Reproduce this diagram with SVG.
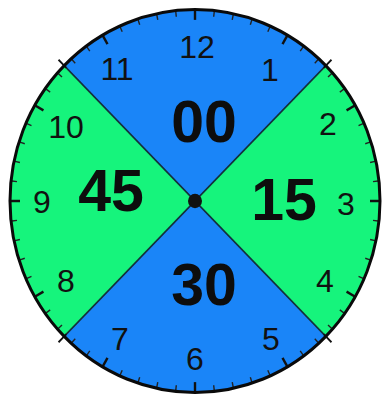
<svg xmlns="http://www.w3.org/2000/svg" xmlns:xlink="http://www.w3.org/1999/xlink" width="384" height="399" viewBox="0 0 384 399">
<style>
.hr{font-family:"Liberation Sans",Arial,sans-serif;font-size:32px;fill:#111;text-anchor:middle}
.big{font-family:"Liberation Sans",Arial,sans-serif;font-size:59px;font-weight:bold;fill:#0d0d0d;text-anchor:middle}
.mn{stroke:#222;stroke-width:1.4}
.mj{stroke:#111;stroke-width:2.4}
.dg{stroke:#111;stroke-width:1.8}
</style>
<defs>
<line id="m" class="mn" x1="0" y1="-184" x2="0" y2="-179"/>
<line id="M" class="mj" x1="0" y1="-185" x2="0" y2="-175"/>
<line id="D" class="dg" x1="0" y1="-193" x2="0" y2="-182"/>
</defs>
<rect width="384" height="399" fill="#ffffff"/>
<g id="clock" transform="translate(195,201) scale(1,1.035)">
<circle r="185" fill="#16f47c"/>
<path d="M0,0 L-130.8,-130.8 A185,185 0 0 1 130.8,-130.8 Z" fill="#1a85f8"/>
<path d="M0,0 L130.8,130.8 A185,185 0 0 1 -130.8,130.8 Z" fill="#1a85f8"/>
<line x1="-130.8" y1="-130.8" x2="130.8" y2="130.8" stroke="#13303a" stroke-width="1.6"/>
<line x1="130.8" y1="-130.8" x2="-130.8" y2="130.8" stroke="#13303a" stroke-width="1.6"/>
<g id="ticks">
<use xlink:href="#m" transform="rotate(6)"/><use xlink:href="#m" transform="rotate(12)"/><use xlink:href="#m" transform="rotate(18)"/><use xlink:href="#m" transform="rotate(24)"/>
<use xlink:href="#m" transform="rotate(36)"/><use xlink:href="#m" transform="rotate(42)"/><use xlink:href="#m" transform="rotate(48)"/><use xlink:href="#m" transform="rotate(54)"/>
<use xlink:href="#m" transform="rotate(66)"/><use xlink:href="#m" transform="rotate(72)"/><use xlink:href="#m" transform="rotate(78)"/><use xlink:href="#m" transform="rotate(84)"/>
<use xlink:href="#m" transform="rotate(96)"/><use xlink:href="#m" transform="rotate(102)"/><use xlink:href="#m" transform="rotate(108)"/><use xlink:href="#m" transform="rotate(114)"/>
<use xlink:href="#m" transform="rotate(126)"/><use xlink:href="#m" transform="rotate(132)"/><use xlink:href="#m" transform="rotate(138)"/><use xlink:href="#m" transform="rotate(144)"/>
<use xlink:href="#m" transform="rotate(156)"/><use xlink:href="#m" transform="rotate(162)"/><use xlink:href="#m" transform="rotate(168)"/><use xlink:href="#m" transform="rotate(174)"/>
<use xlink:href="#m" transform="rotate(186)"/><use xlink:href="#m" transform="rotate(192)"/><use xlink:href="#m" transform="rotate(198)"/><use xlink:href="#m" transform="rotate(204)"/>
<use xlink:href="#m" transform="rotate(216)"/><use xlink:href="#m" transform="rotate(222)"/><use xlink:href="#m" transform="rotate(228)"/><use xlink:href="#m" transform="rotate(234)"/>
<use xlink:href="#m" transform="rotate(246)"/><use xlink:href="#m" transform="rotate(252)"/><use xlink:href="#m" transform="rotate(258)"/><use xlink:href="#m" transform="rotate(264)"/>
<use xlink:href="#m" transform="rotate(276)"/><use xlink:href="#m" transform="rotate(282)"/><use xlink:href="#m" transform="rotate(288)"/><use xlink:href="#m" transform="rotate(294)"/>
<use xlink:href="#m" transform="rotate(306)"/><use xlink:href="#m" transform="rotate(312)"/><use xlink:href="#m" transform="rotate(318)"/><use xlink:href="#m" transform="rotate(324)"/>
<use xlink:href="#m" transform="rotate(336)"/><use xlink:href="#m" transform="rotate(342)"/><use xlink:href="#m" transform="rotate(348)"/><use xlink:href="#m" transform="rotate(354)"/>
<use xlink:href="#M"/><use xlink:href="#M" transform="rotate(30)"/><use xlink:href="#M" transform="rotate(60)"/><use xlink:href="#M" transform="rotate(90)"/>
<use xlink:href="#M" transform="rotate(120)"/><use xlink:href="#M" transform="rotate(150)"/><use xlink:href="#M" transform="rotate(180)"/><use xlink:href="#M" transform="rotate(210)"/>
<use xlink:href="#M" transform="rotate(240)"/><use xlink:href="#M" transform="rotate(270)"/><use xlink:href="#M" transform="rotate(300)"/><use xlink:href="#M" transform="rotate(330)"/>
<use xlink:href="#D" transform="rotate(45)"/><use xlink:href="#D" transform="rotate(135)"/><use xlink:href="#D" transform="rotate(225)"/><use xlink:href="#D" transform="rotate(315)"/>
</g>
<circle r="185" fill="none" stroke="#0a0a0a" stroke-width="3"/>
<circle r="7" fill="#111"/>
</g>
<g id="hours">
<text class="hr" x="197" y="58">12</text>
<text class="hr" x="270" y="81">1</text>
<text class="hr" x="328" y="135">2</text>
<text class="hr" x="346" y="215">3</text>
<text class="hr" x="325" y="292">4</text>
<text class="hr" x="271" y="350">5</text>
<text class="hr" x="195" y="370">6</text>
<text class="hr" x="120" y="350">7</text>
<text class="hr" x="66" y="292">8</text>
<text class="hr" x="42" y="213">9</text>
<text class="hr" x="66" y="138">10</text>
<text class="hr" x="117" y="80">11</text>
</g>
<g id="minutes">
<text class="big" x="204" y="142">00</text>
<text class="big" x="284" y="220">15</text>
<text class="big" x="204" y="305">30</text>
<text class="big" x="111" y="211">45</text>
</g>
</svg>
